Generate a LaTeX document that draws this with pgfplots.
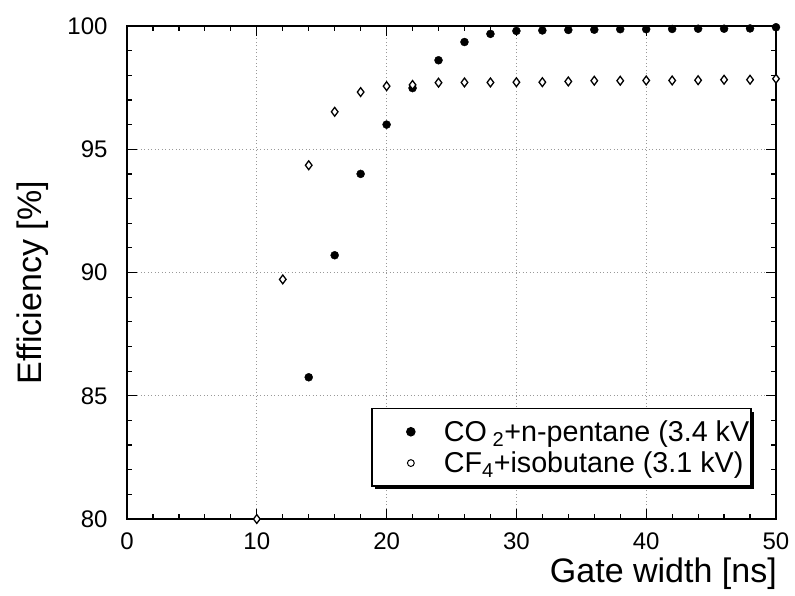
\documentclass[border=0pt]{standalone}
\usepackage{pgfplots}
\pgfplotsset{compat=1.18}
\usepackage{fontspec}
\setmainfont{Liberation Sans}
\usetikzlibrary{shadows}
\begin{document}
\begin{tikzpicture}
\begin{axis}[
  scale only axis,
  width=649pt, height=493pt,
  xmin=0, xmax=50, ymin=80, ymax=100,
  xtick={0,10,20,30,40,50},
  ytick={80,85,90,95,100},
  minor x tick num=4,
  minor y tick num=4,
  tick align=inside,
  major tick length=10pt,
  minor tick length=5pt,
  every tick/.style={black, line width=1.2pt},
  axis line style={line width=1.6pt},
  grid=major,
  major grid style={dash pattern=on 1pt off 2.5pt, gray!80, line width=0.7pt},
  /pgf/number format/assume math mode=true,
  tick label style={font=\fontsize{24pt}{28pt}\selectfont},
  xticklabel style={yshift=-10pt},
  yticklabel style={xshift=-16pt},
  xlabel={Gate width [ns]},
  ylabel={Efficiency [\%]},
  label style={font=\fontsize{34pt}{40pt}\selectfont, inner sep=0pt},
  xlabel style={at={(axis description cs:1.0015,-0.1298)}, anchor=base east},
  ylabel style={at={(axis description cs:-0.146,0.479)}, anchor=center},
  legend style={
    at={(rel axis cs:0.963,0.065)}, anchor=south east,
    draw=black, line width=1.5pt, fill=white,
    font=\fontsize{28.7pt}{32pt}\selectfont,
    inner xsep=2pt, inner ysep=10pt,
    nodes={inner xsep=0pt, inner ysep=2pt},
    row sep=5pt,
    drop shadow={shadow xshift=3pt, shadow yshift=-3pt, fill=black, opacity=1},
  },
  legend cell align=left,
  legend image code/.code={%
    \pgfpathmoveto{\pgfqpoint{0pt}{-1pt}}\pgfpathlineto{\pgfqpoint{70pt}{1pt}}%
    \pgfusepath{use as bounding box}%
    \draw[#1] plot coordinates {(37pt,0pt)};},
]
\addplot[only marks, mark=*, mark size=4pt, black, forget plot] coordinates {
(14,85.75) (16,90.7) (18,94.0) (20,96.0) (22,97.48) (24,98.61) (26,99.35)
(28,99.68) (30,99.80) (32,99.82) (34,99.84) (36,99.85) (38,99.87) (40,99.87)
(42,99.88) (44,99.89) (46,99.89) (48,99.90) (50,99.95)
};
\addplot[only marks, mark=diamond*, mark size=4.4pt, black, line width=1.3pt,
  mark options={fill=white}, forget plot] coordinates {
(10,80.0) (12,89.72) (14,94.35) (16,96.52) (18,97.32) (20,97.56) (22,97.61)
(24,97.70) (26,97.71) (28,97.71) (30,97.72) (32,97.72) (34,97.75) (36,97.78)
(38,97.78) (40,97.79) (42,97.79) (44,97.80) (46,97.82) (48,97.82) (50,97.86)
};
\addlegendimage{only marks, mark=*, mark size=4pt, black}
\addlegendentry{CO\hspace{0.2em}\textsubscript{2}+n-pentane (3.4 kV}
\addlegendimage{only marks, mark=o, mark size=3.4pt, black, line width=1pt}
\addlegendentry{CF\textsubscript{4}+isobutane (3.1 kV)}
\end{axis}
\pgfresetboundingbox
\path (-127pt,-76pt) rectangle (668pt,519pt);
\end{tikzpicture}
\end{document}
